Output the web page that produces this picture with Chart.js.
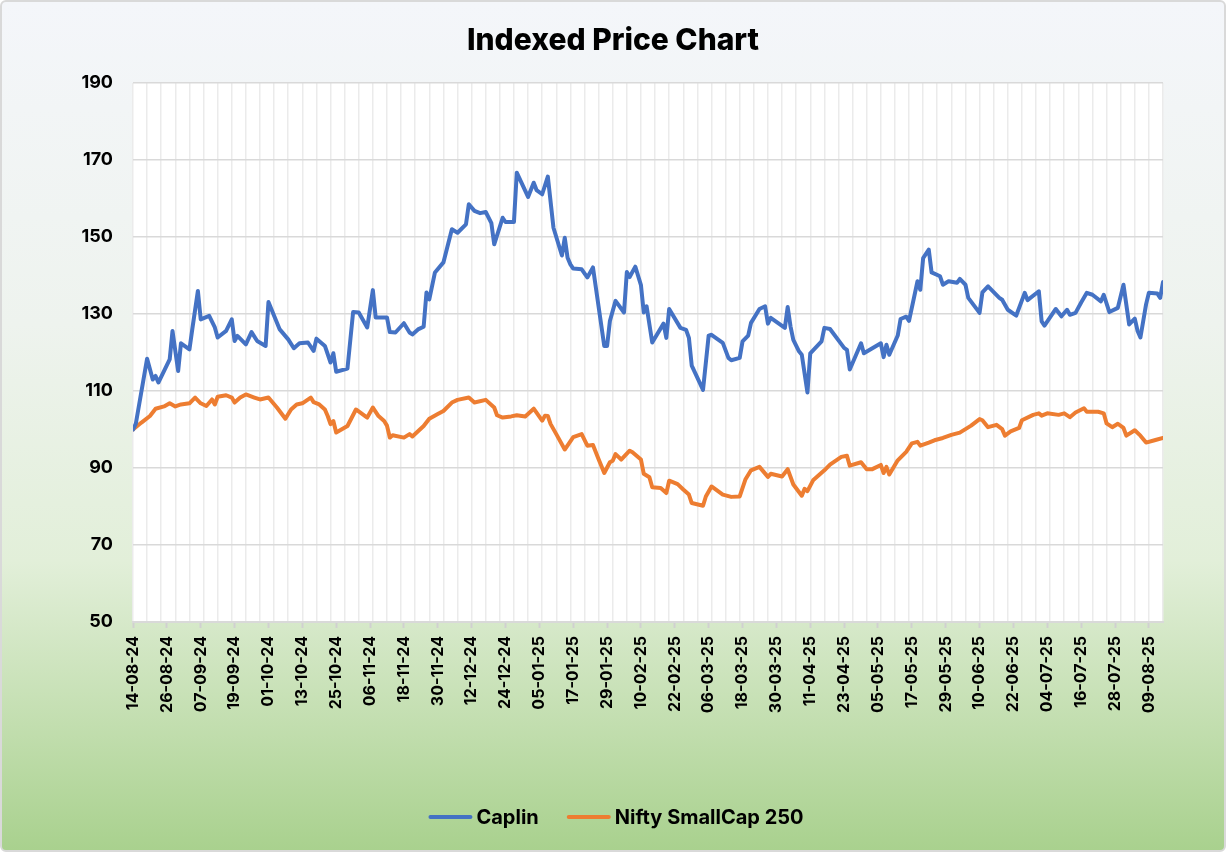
<!DOCTYPE html>
<html>
<head>
<meta charset="utf-8">
<script src="https://cdn.jsdelivr.net/npm/chart.js@4.4.1/dist/chart.umd.min.js"></script>
<style>
html,body{margin:0;padding:0;background:#ffffff;}
#frame{position:absolute;left:0;top:0;width:1226px;height:852px;box-sizing:border-box;border:2px solid #d9d9d9;border-radius:6px;
background:linear-gradient(to bottom,#f4f6fa 0%,#eef3ee 38%,#e2efd9 66%,#c6e0b4 83%,#a9d18e 100%);}
#c{position:absolute;left:0;top:0;}
</style>
</head>
<body>
<div id="frame"></div>
<canvas id="c" width="1226" height="852"></canvas>
<script>
// Day offsets are calendar days counted from 14-08-2024
const startDate = '2024-08-14';
const xTickLabels = ['14-08-24','26-08-24','07-09-24','19-09-24','01-10-24','13-10-24','25-10-24','06-11-24','18-11-24','30-11-24','12-12-24','24-12-24','05-01-25','17-01-25','29-01-25','10-02-25','22-02-25','06-03-25','18-03-25','30-03-25','11-04-25','23-04-25','05-05-25','17-05-25','29-05-25','10-06-25','22-06-25','04-07-25','16-07-25','28-07-25','09-08-25'];

const capDays = [0,1,5,7,8,9,13,14,16,17,20,21,23,24,27,29,30,33,35,36,37,40,42,44,47,48,52,55,57,59,62,64,65,68,70,71,72,76,78,80,83,85,86,90,91,93,96,98,99,101,103,104,105,107,110,113,115,118,119,121,123,125,127,128,131,132,135,136,140,142,143,145,147,149,152,153,154,155,156,159,161,163,167,168,169,171,174,175,176,178,180,181,182,184,188,189,190,194,196,197,198,202,204,205,209,211,212,215,216,218,219,222,224,225,226,231,232,233,234,236,237,239,240,244,245,247,252,253,254,258,259,265,266,267,268,271,272,274,275,278,279,280,282,283,286,287,289,292,293,295,296,300,301,303,307,308,310,313,316,317,321,322,323,327,329,331,332,334,336,338,340,343,344,346,349,351,353,355,356,357,359,360,363,364,365];
const capValues = [100.0,101.5,118.4,113.0,113.9,112.2,118.2,125.6,115.2,122.4,120.8,126.0,136.0,128.6,129.5,126.5,123.9,125.6,128.6,123.0,124.3,122.1,125.3,123.0,121.7,133.1,126.0,123.4,121.1,122.4,122.6,120.4,123.6,121.7,117.4,119.8,115.0,115.8,130.5,130.4,126.5,136.2,129.1,129.1,125.3,125.2,127.6,125.2,124.7,126.0,126.7,135.6,133.8,140.8,143.4,152.0,151.1,153.3,158.5,156.8,156.2,156.5,153.6,148.1,155.0,153.9,153.9,166.7,160.4,164.1,162.2,161.1,165.7,152.4,145.2,149.8,144.6,142.9,141.8,141.6,139.5,142.1,121.7,121.7,128.2,133.4,130.4,140.9,139.6,142.3,137.5,130.4,132.0,122.6,127.5,123.8,131.3,126.4,125.9,123.8,116.6,110.3,124.4,124.6,122.5,118.6,118.0,118.6,122.9,124.4,127.7,131.3,132.0,127.5,129.0,126.4,131.8,126.8,123.3,120.3,119.4,109.6,119.8,122.9,126.4,126.1,121.2,120.7,115.6,122.4,119.8,122.4,118.8,122.0,119.4,124.4,128.7,129.3,128.2,138.5,136.3,144.5,146.7,140.8,139.8,137.6,138.5,138.1,139.1,137.6,134.2,130.3,135.6,137.2,134.2,133.7,131.1,129.6,135.5,133.6,135.9,128.1,127.0,131.3,129.4,131.1,129.8,130.3,133.0,135.5,135.0,133.3,135.0,130.5,131.6,137.6,127.3,128.8,125.6,123.9,132.5,135.5,135.3,134.2,138.3];

const niftyDays = [0,3,6,8,11,13,15,17,20,22,24,26,28,29,30,33,35,36,38,40,43,45,48,51,54,56,58,60,63,64,66,68,69,70,71,72,76,79,83,85,87,89,90,91,92,96,98,99,103,105,108,110,113,115,119,121,125,128,129,131,134,136,139,142,145,146,147,148,150,153,156,159,161,163,165,167,169,170,171,173,176,177,180,181,183,184,187,189,190,193,195,197,198,202,203,205,209,212,215,217,219,222,225,226,230,232,234,237,238,239,241,245,247,251,253,254,258,260,262,265,266,267,268,271,274,276,278,279,282,284,287,290,293,297,300,301,303,306,308,309,311,314,315,319,321,322,324,328,330,332,334,337,338,342,344,345,347,349,351,352,355,357,359,362,365];
const niftyValues = [100.0,101.8,103.5,105.4,106.0,106.8,106.0,106.5,106.8,108.3,106.8,106.1,107.8,106.5,108.5,108.9,108.3,107.0,108.3,109.1,108.3,107.8,108.3,105.7,102.8,105.2,106.5,106.8,108.3,107.1,106.5,105.2,103.5,101.4,102.2,99.2,100.9,105.2,103.1,105.7,103.5,102.2,101.0,97.9,98.5,97.9,98.8,98.2,100.9,102.8,104.0,104.8,107.0,107.7,108.3,107.0,107.7,105.7,103.7,103.1,103.4,103.7,103.4,105.4,102.3,103.6,103.5,101.4,98.8,94.8,98.0,98.8,95.8,96.0,92.3,88.7,91.5,91.9,93.6,92.2,94.5,94.1,92.2,88.5,87.6,85.0,84.8,83.5,86.7,85.8,84.4,83.1,80.9,80.2,82.6,85.2,83.1,82.5,82.6,87.0,89.4,90.3,87.7,88.5,87.8,89.7,85.7,82.8,84.6,84.0,86.8,89.4,90.9,92.9,93.2,90.6,91.5,89.7,89.7,90.8,88.7,90.3,88.3,92.0,94.2,96.4,96.8,95.8,96.6,97.2,97.8,98.6,99.2,101.0,102.7,102.4,100.6,101.2,100.1,98.4,99.5,100.4,102.4,103.8,104.2,103.6,104.2,103.8,104.2,103.2,104.4,105.5,104.6,104.6,104.2,101.6,100.6,101.5,100.4,98.4,99.8,98.4,96.6,97.2,97.8];

const seriesNames = ['Caplin','Nifty SmallCap 250'];
const seriesColors = ['#4472c4','#ed7d31'];
const yMin = 50, yMax = 190, yStep = 20;

const FONT = 'Inter, "Noto Sans", sans-serif';
Chart.defaults.font.family = FONT;
Chart.defaults.color = '#000000';

const decor = {
  id: 'decor',
  afterLayout(chart) {
    const tb = chart.titleBlock;
    if (tb) { tb.left = 0; tb.right = chart.width; tb.width = chart.width; }
  },
  beforeDraw(chart) {
    const {ctx, chartArea: a} = chart;
    ctx.save();
    ctx.fillStyle = '#ffffff';
    ctx.fillRect(a.left, a.top, a.right - a.left, a.bottom - a.top);
    ctx.restore();
  },
  afterDraw(chart) {
    // legend: line sample + label, centred under the chart
    const ctx = chart.ctx;
    const lineLen = 44, gap = 4, itemGap = 28, cy = 817, cx = 616;
    ctx.save();
    ctx.font = 'bold 20px ' + FONT;
    ctx.textBaseline = 'middle';
    ctx.textAlign = 'left';
    const items = chart.data.datasets.map(ds => ({text: ds.label, color: ds.borderColor, w: ctx.measureText(ds.label).width}));
    let total = 0;
    items.forEach((it, i) => { total += lineLen + gap + it.w + (i ? itemGap : 0); });
    let x = cx - total / 2;
    items.forEach((it, i) => {
      if (i) x += itemGap;
      ctx.strokeStyle = it.color; ctx.lineWidth = 4; ctx.lineCap = 'round';
      ctx.beginPath(); ctx.moveTo(x + 2, cy); ctx.lineTo(x + lineLen - 2, cy); ctx.stroke();
      x += lineLen + gap;
      ctx.fillStyle = '#000000';
      ctx.fillText(it.text, x, cy + 1);
      x += it.w;
    });
    ctx.restore();
  }
};

new Chart(document.getElementById('c'), {
  type: 'line',
  data: {
    datasets: [
      {
        label: seriesNames[0],
        data: capDays.map((d, i) => ({x: d, y: capValues[i]})),
        borderColor: seriesColors[0], backgroundColor: seriesColors[0],
        borderWidth: 4, pointRadius: 0, tension: 0,
        borderJoinStyle: 'round', borderCapStyle: 'round', xAxisID: 'x'
      },
      {
        label: seriesNames[1],
        data: niftyDays.map((d, i) => ({x: d, y: niftyValues[i]})),
        borderColor: seriesColors[1], backgroundColor: seriesColors[1],
        borderWidth: 4, pointRadius: 0, tension: 0,
        borderJoinStyle: 'round', borderCapStyle: 'round', xAxisID: 'x'
      }
    ]
  },
  options: {
    responsive: false,
    animation: false,
    devicePixelRatio: 1,
    layout: { padding: { left: 20, right: 63, top: 0, bottom: 15 } },
    plugins: {
      title: {
        display: true, text: 'Indexed Price Chart', color: '#000000',
        font: { size: 30, weight: '800', family: FONT, lineHeight: 1.2 },
        padding: { top: 23, bottom: 24 }
      },
      legend: { display: false },
      tooltip: { enabled: false }
    },
    scales: {
      x: {
        type: 'linear', min: 0, max: 365, position: 'bottom',
        afterBuildTicks(scale) { scale.ticks = xTickLabels.map((_, i) => ({value: i * 12})); },
        ticks: {
          autoSkip: false, minRotation: 90, maxRotation: 90, padding: 8,
          font: { size: 16, weight: 'bold', family: FONT }, color: '#000000',
          callback: (v) => xTickLabels[Math.round(v / 12)]
        },
        grid: { drawOnChartArea: false, drawTicks: true, tickLength: 6, tickColor: '#d0d0d0', tickWidth: 2 },
        border: { display: true, color: '#d9d9d9', width: 2 },
        afterFit(scale) { scale.height = 215; }
      },
      xg: {
        type: 'linear', min: 0, max: 365, position: 'bottom',
        ticks: { display: false, stepSize: 5 },
        grid: { color: '#ebebeb', lineWidth: 1.5, drawTicks: false },
        border: { display: false },
        afterFit(scale) { scale.height = 0; }
      },
      y: {
        min: yMin, max: yMax,
        ticks: { stepSize: yStep, padding: 20, font: { size: 18, weight: 'bold', family: FONT }, color: '#000000' },
        grid: { color: '#d9d9d9', lineWidth: 1.5, drawTicks: false },
        border: { display: false },
        afterFit(scale) { scale.width = 113; }
      }
    }
  },
  plugins: [decor]
});
</script>
</body>
</html>
